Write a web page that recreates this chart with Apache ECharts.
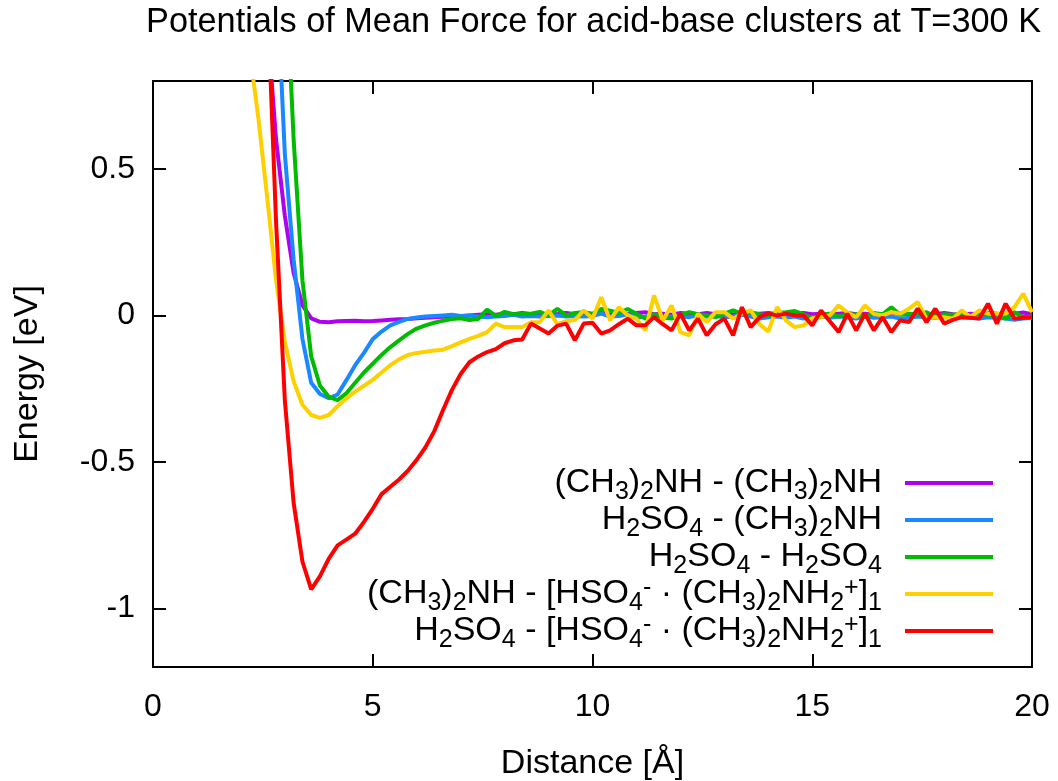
<!DOCTYPE html>
<html><head><meta charset="utf-8">
<script src="https://cdn.jsdelivr.net/npm/echarts@6/dist/echarts.min.js"></script>
<style>html,body{margin:0;padding:0;background:#fff}#c{width:1058px;height:781px}</style>
</head><body><div id="c"></div>
<script>
// Distance [Å]
const distance = [
  2.2, 2.4, 2.6, 2.8, 3.0, 3.2, 3.4, 3.6, 3.8, 4.0,
  4.2, 4.4, 4.6, 4.8, 5.0, 5.2, 5.4, 5.6, 5.8, 6.0,
  6.2, 6.4, 6.6, 6.8, 7.0, 7.2, 7.4, 7.6, 7.8, 8.0,
  8.2, 8.4, 8.6, 8.8, 9.0, 9.2, 9.4, 9.6, 9.8, 10.0,
  10.2, 10.4, 10.6, 10.8, 11.0, 11.2, 11.4, 11.6, 11.8, 12.0,
  12.2, 12.4, 12.6, 12.8, 13.0, 13.2, 13.4, 13.6, 13.8, 14.0,
  14.2, 14.4, 14.6, 14.8, 15.0, 15.2, 15.4, 15.6, 15.8, 16.0,
  16.2, 16.4, 16.6, 16.8, 17.0, 17.2, 17.4, 17.6, 17.8, 18.0,
  18.2, 18.4, 18.6, 18.8, 19.0, 19.2, 19.4, 19.6, 19.8, 20.0
];
// Energy [eV]
const dmaDma = [
  null, null, 1.0, 0.6, 0.34, 0.145, 0.035, -0.01, -0.022, -0.023,
  -0.02, -0.019, -0.018, -0.02, -0.019, -0.017, -0.015, -0.013, -0.012, -0.01,
  -0.008, -0.006, -0.005, -0.004, -0.003, 0.0, 0.002, 0.004, 0.002, 0.006,
  0.004, 0.008, 0.004, 0.002, 0.006, 0.004, 0.008, 0.004, 0.006, 0.002,
  0.008, 0.004, 0.006, 0.004, 0.008, 0.011, 0.004, 0.006, 0.002, 0.008,
  0.006, 0.004, 0.008, 0.004, 0.006, 0.002, 0.008, 0.004, 0.006, 0.008,
  0.004, 0.006, 0.002, 0.008, 0.004, 0.006, 0.002, 0.006, 0.008, 0.004,
  0.006, 0.002, 0.004, 0.008, 0.006, 0.004, 0.002, 0.006, 0.004, 0.008,
  0.004, 0.002, 0.006, 0.004, 0.008, 0.006, 0.002, 0.006, 0.01, 0.004
];
const saDma = [
  null, null, null, 1.2, 0.55, 0.19, -0.08, -0.23, -0.268, -0.283,
  -0.27, -0.221, -0.17, -0.128, -0.081, -0.055, -0.034, -0.022, -0.012, -0.007,
  -0.004, -0.002, 0.0, 0.002, -0.002, 0.0, -0.004, -0.006, -0.004, -0.002,
  0.002, -0.004, -0.002, -0.004, -0.002, 0.0, -0.004, -0.002, -0.004, -0.002,
  0.006, -0.004, -0.002, 0.004, -0.008, -0.004, 0.002, -0.006, -0.004, -0.002,
  -0.006, 0.0, -0.004, -0.002, -0.006, -0.004, 0.002, -0.004, -0.011, -0.006,
  -0.004, -0.008, -0.004, -0.011, -0.006, -0.004, -0.008, -0.004, -0.006, -0.011,
  -0.004, -0.008, -0.006, -0.004, -0.011, -0.008, -0.004, -0.006, -0.008, -0.004,
  -0.011, -0.006, -0.008, -0.011, -0.006, -0.008, -0.011, -0.015, -0.011, -0.008
];
const saSa = [
  null, null, null, null, 1.25, 0.6, 0.12, -0.14, -0.24, -0.278,
  -0.289, -0.266, -0.23, -0.195, -0.165, -0.135, -0.108, -0.085, -0.063, -0.045,
  -0.034, -0.025, -0.018, -0.012, -0.01, -0.016, -0.012, 0.02, -0.002, 0.012,
  0.004, 0.006, 0.006, 0.012, 0.0, 0.022, 0.0, 0.008, 0.011, 0.006,
  0.022, 0.016, 0.008, 0.022, 0.006, -0.011, 0.004, -0.008, -0.011, 0.002,
  0.011, 0.004, 0.0, -0.006, 0.006, 0.017, 0.006, 0.011, 0.004, 0.0,
  0.008, 0.011, 0.015, 0.004, -0.011, 0.004, 0.006, -0.004, 0.002, 0.004,
  -0.006, 0.008, 0.004, 0.028, 0.002, 0.006, 0.004, 0.011, -0.004, 0.004,
  0.002, 0.006, 0.0, 0.006, 0.002, 0.004, -0.011, 0.011, -0.006, -0.004
];
const dmaCluster = [
  0.9, 0.67, 0.4, 0.12, -0.09, -0.225, -0.305, -0.34, -0.35, -0.34,
  -0.31, -0.283, -0.26, -0.24, -0.22, -0.195, -0.17, -0.15, -0.135, -0.128,
  -0.124, -0.12, -0.117, -0.105, -0.092, -0.08, -0.07, -0.057, -0.028, -0.04,
  -0.04, -0.04, -0.023, -0.023, 0.017, -0.03, -0.02, -0.015, 0.017, -0.011,
  0.062, -0.017, 0.028, 0.0, -0.011, -0.051, 0.068, -0.017, 0.034, -0.057,
  -0.068, 0.006, -0.023, 0.011, 0.011, -0.011, 0.006, 0.017, -0.03, -0.055,
  0.028, -0.017, -0.04, -0.034, -0.01, -0.006, 0.0, 0.034, 0.01, -0.006,
  0.034, 0.005, 0.0, 0.011, 0.006, 0.023, 0.045, -0.011, -0.006, -0.006,
  -0.011, 0.017, -0.006, 0.017, 0.006, 0.006, 0.006, 0.028, 0.074, 0.011
];
const saCluster = [
  null, null, 1.1, 0.32, -0.29, -0.64, -0.84, -0.935, -0.89, -0.83,
  -0.785, -0.765, -0.745, -0.705, -0.66, -0.61, -0.585, -0.56, -0.53, -0.493,
  -0.45, -0.395, -0.323, -0.255, -0.2, -0.16, -0.14, -0.125, -0.115, -0.095,
  -0.085, -0.082, -0.028, -0.045, -0.062, -0.035, -0.028, -0.085, -0.028, -0.025,
  -0.062, -0.051, -0.03, -0.011, -0.034, -0.034, -0.006, -0.03, -0.051, 0.006,
  -0.051, -0.011, -0.068, -0.03, -0.011, -0.068, 0.028, -0.04, -0.006, 0.006,
  0.0, 0.006, 0.0, 0.0, -0.034, 0.017, -0.02, -0.057, 0.006, -0.051,
  0.006, -0.051, -0.006, -0.057, -0.017, -0.023, 0.023, -0.023, 0.023, -0.028,
  -0.015, -0.006, -0.008, -0.011, 0.04, -0.028, 0.04, -0.011, -0.008, -0.006
];

const seriesNames = ['DMA-DMA', 'SA-DMA', 'SA-SA', 'DMA-cluster', 'SA-cluster'];
const legendLabels = [
  '(CH{s|3}){s|2}NH - (CH{s|3}){s|2}NH',
  'H{s|2}SO{s|4} - (CH{s|3}){s|2}NH',
  'H{s|2}SO{s|4} - H{s|2}SO{s|4}',
  '(CH{s|3}){s|2}NH - [HSO{s|4}{p|-} · (CH{s|3}){s|2}NH{s|2}{p|+}]{s|1}',
  'H{s|2}SO{s|4} - [HSO{s|4}{p|-} · (CH{s|3}){s|2}NH{s|2}{p|+}]{s|1}'
];
const seriesValues = [dmaDma, saDma, saSa, dmaCluster, saCluster];
const colors = ['#b000f0', '#1a88ff', '#00bb00', '#ffd000', '#ff0000'];
const xTicks = [0, 5, 10, 15, 20];
const yTicks = [-1, -0.5, 0, 0.5];
const titleText = 'Potentials of Mean Force for acid-base clusters at T=300 K';

const FONT = '"Liberation Sans", Arial, Helvetica, sans-serif';
const chart = echarts.init(document.getElementById('c'), null, {renderer: 'canvas'});

function xAxisCfg(pos, labels) {
  return {
    type: 'value', position: pos, min: 0, max: 20, interval: 5,
    axisLine: {show: true, onZero: false, lineStyle: {color: '#000', width: 2}},
    axisTick: {show: true, inside: true, length: 13, lineStyle: {color: '#000', width: 2}},
    axisLabel: {show: labels, margin: 24, fontSize: 32, color: '#000', fontFamily: FONT},
    splitLine: {show: false},
    name: labels ? 'Distance [Å]' : '', nameLocation: 'middle', nameGap: 80,
    nameTextStyle: {fontSize: 34, color: '#000', fontFamily: FONT}
  };
}
function yAxisCfg(pos, labels) {
  return {
    type: 'value', position: pos, min: -1.2, max: 0.8,
    axisLine: {show: true, onZero: false, lineStyle: {color: '#000', width: 2}},
    axisTick: {show: true, inside: true, length: 13, customValues: yTicks, lineStyle: {color: '#000', width: 2}},
    axisLabel: {show: labels, customValues: yTicks, margin: 18, fontSize: 32, color: '#000', fontFamily: FONT},
    splitLine: {show: false},
    name: labels ? 'Energy [eV]' : '', nameLocation: 'middle', nameGap: 108, nameRotate: 90,
    nameTextStyle: {fontSize: 34, color: '#000', fontFamily: FONT}
  };
}

const richBase = {fontFamily: FONT, color: '#000'};
chart.setOption({
  animation: false,
  backgroundColor: '#fff',
  title: {
    text: titleText, left: 146, top: 6, padding: 0,
    textStyle: {fontSize: 34.3, fontWeight: 'normal', color: '#000', fontFamily: FONT}
  },
  grid: {left: 153, right: 26, top: 81, bottom: 114, containLabel: false, outerBoundsMode: 'none'},
  xAxis: [xAxisCfg('bottom', true), xAxisCfg('top', false)],
  yAxis: [yAxisCfg('left', true), yAxisCfg('right', false)],
  legend: {
    orient: 'vertical', right: 65, top: 461, align: 'right',
    icon: 'rect', itemWidth: 88, itemHeight: 4, itemGap: -7, padding: 0,
    selectedMode: false,
    data: seriesNames,
    formatter: function (name) { return legendLabels[seriesNames.indexOf(name)]; },
    textStyle: {
      fontFamily: FONT, fontSize: 34, lineHeight: 44, color: '#000', padding: [0, 18, 0, 0],
      rich: {
        s: Object.assign({fontSize: 25, verticalAlign: 'bottom'}, richBase),
        p: Object.assign({fontSize: 25, verticalAlign: 'top', padding: [4, 0, 0, 0]}, richBase)
      }
    }
  },
  series: seriesNames.map(function (n, k) {
    return {
      name: n, type: 'line', xAxisIndex: 0, yAxisIndex: 0,
      symbol: 'none', showSymbol: false, clip: true, z: 2 + k,
      color: colors[k],
      lineStyle: {color: colors[k], width: 4},
      data: distance.map(function (x, i) { return [x, seriesValues[k][i]]; })
    };
  })
});
</script>
</body></html>
